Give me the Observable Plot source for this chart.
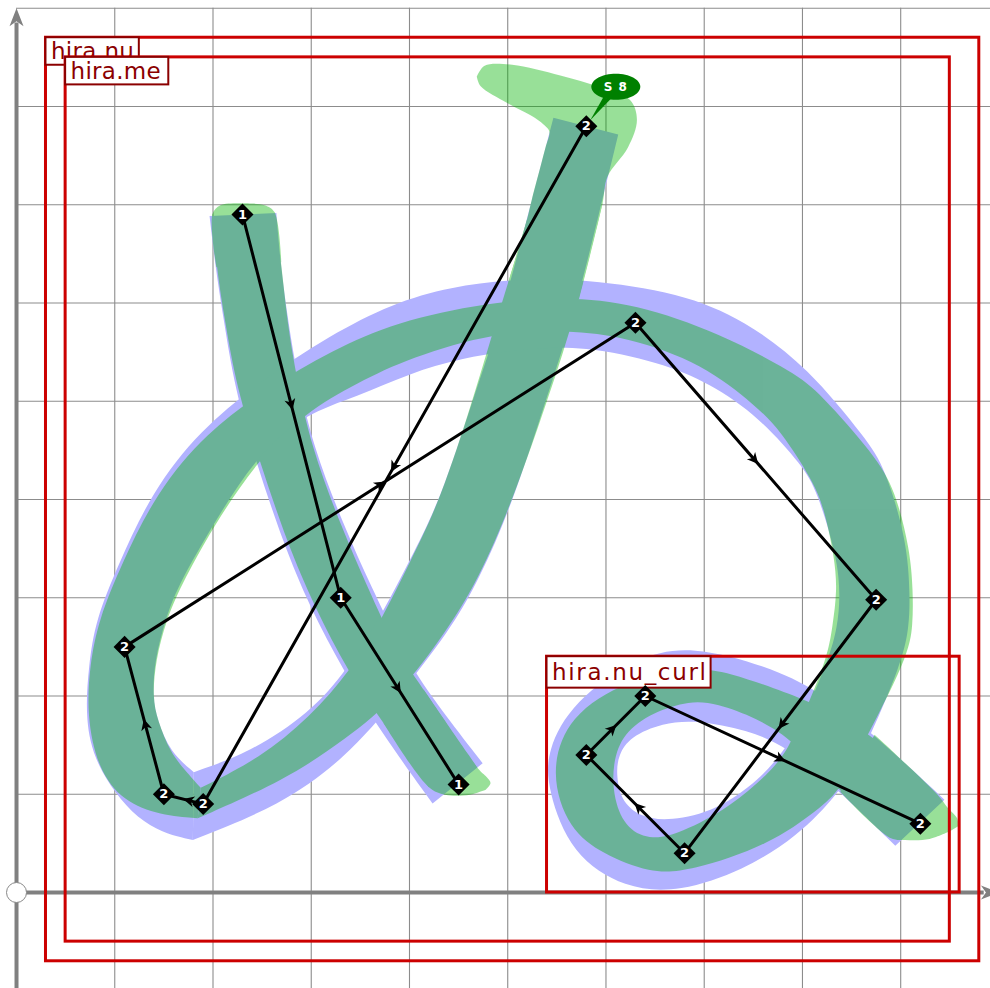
<!DOCTYPE html>
<html><head><meta charset="utf-8">
<script src="https://cdn.jsdelivr.net/npm/d3@7"></script>
<script src="https://cdn.jsdelivr.net/npm/@observablehq/plot@0.6"></script>
<style>html,body{margin:0;padding:0;background:#fff}svg{display:block}</style>
</head><body><div id="chart"></div>
<script>
// Ribbon edges, in font units: [inner x, inner y, outer x, outer y]
const blueStem = [[197,688,265,691],[203,636,269,641],[211,585,277,580],[223,511,287,521],[243,442,302,455],[272,355,333,374],[299,290,362,310],[333,226,393,246],[370,165,419,203],[424,90,475,131]];
const blueDown = [[547,788,613,771],[525,704,593,689],[503,620,572,603],[488,569,556,552],[465,501,533,480],[432,399,499,379],[401,338,468,312],[374,285,442,267],[337,226,388,197],[299,182,335,136],[238,142,269,88],[181,122,180,53]];
const blueLoop = [[181,122,180,53],[157,142,130,64],[144,175,82,124],[139,198,70,175],[141,236,74,231],[152,277,81,277],[164,310,104,333],[197,368,138,407],[243,442,187,470],[294,487,250,521],[347,504,320,567],[401,528,383,599],[452,543,442,616],[513,553,508,624],[579,556,579,624],[655,539,676,610],[706,518,742,582],[757,483,806,534],[801,433,866,460],[815,409,884,433],[836,341,907,358],[839,300,910,300],[836,270,909,272],[828,239,903,236],[803,180,862,141],[785,148,839,102],[757,114,795,56],[713,83,740,22],[666,72,676,0],[635,76,620,3],[615,94,565,38],[611,121,541,104],[613,139,540,144],[625,158,567,194],[658,172,632,240],[693,175,688,251],[744,165,764,230],[785,148,816,206],[839,102,874,160],[895,47,945,94]];
const greenStem = [[200,690,263,692],[204,636,270,641],[212,585,276,580],[225,511,286,521],[247,442,300,455],[276,355,330,374],[304,290,358,310],[338,224,387,246],[374,172,415,206],[420,107,470,126]];
const greenStemTop = [[229,701,229,701],[208,699,253,699],[200,690,263,692],[204,636,270,641]];
const greenStemEnd = [[374,172,415,206],[420,107,470,126],[437,99,479,117],[462,99,483,111],[478,104,478,104]];
const greenHook = [[469,830,469,830],[473,820,477,841],[500,803,505,842],[528,788,554,831],[542,776,594,819],[543,772,625,806],[539,758,632,786],[533,735,623,758],[526,709,602,728],[520,684,597,701],[501,620,573,603]];
const greenDown = [[520,684,597,701],[501,620,573,603],[485,569,558,552],[465,501,534,480],[432,399,498,379],[402,338,467,312],[372,277,439,267],[341,226,390,200],[299,178,335,155],[248,136,274,114],[188,106,185,75]];
const greenLoop = [[188,106,185,75],[172,124,147,78],[157,142,109,92],[144,175,83,126],[139,198,72,180],[142,236,75,231],[153,277,84,277],[167,310,108,335],[200,371,143,407],[245,438,194,468],[294,488,253,511],[347,518,323,552],[401,544,386,580],[488,570,479,600],[561,572,559,606],[622,565,630,599],[699,538,716,569],[754,494,793,528],[778,470,818,508],[811,419,874,445],[823,389,895,409],[833,341,910,348],[836,307,913,307],[831,270,913,272],[826,239,908,239],[803,183,859,145],[791,158,839,104],[778,131,818,85],[727,86,767,48],[676,60,686,21],[648,53,645,19],[622,63,597,39],[608,94,563,63],[607,131,543,121],[618,162,562,180],[648,183,623,216],[686,195,686,230],[713,192,728,223],[754,177,772,207],[791,155,811,193],[839,102,874,160],[890,55,938,99]];
const greenTailEnd = [[839,102,874,160],[890,55,938,99],[905,53,949,85],[930,54,958,75],[951,62,959,67]];

// Stroke control points
const stroke1X = [230,330,450];
const stroke1Y = [690,300,110];
const stroke2X = [580,190,150,110,630,875,680,580,640,920];
const stroke2Y = [780,90,100,250,580,298,40,140,200,70];

// Boxes
const boxNames = ["hira.nu","hira.me","hira.nu_curl"];
const boxX1 = [30,50,540];
const boxX2 = [980,950,960];
const boxY1 = [-70,-50,0];
const boxY2 = [870,850,240];
const labelWidth = [95,105,167];
const labelHeight = [28,28,32];

const gridX = [100,200,300,400,500,600,700,800,900];
const gridY = [100,200,300,400,500,600,700,800,900];
const tag = "S 8";
const tagAt = [610,820];
const tagTail = [[597,809],[605,808],[584,786]];

const rib = (rows, piece) => rows.map(([lx,ly,rx,ry]) => ({lx,ly,rx,ry,piece}));
const blueRows = [...rib(blueStem,"a"),...rib(blueDown,"b"),...rib(blueLoop,"c")];
const greenRows = [...rib(greenStem,"a"),...rib(greenDown,"b"),...rib(greenLoop,"c")];
const greenCaps = [...rib(greenStemTop,"t"),...rib(greenStemEnd,"e"),...rib(greenHook,"h"),...rib(greenTailEnd,"l")];
const ribbon = {x1:"lx",y1:"ly",x2:"rx",y2:"ry",z:"piece"};

const toPts = (X,Y,s) => X.map((x,i) => ({x,y:Y[i],s}));
const pts1 = toPts(stroke1X,stroke1Y,1), pts2 = toPts(stroke2X,stroke2Y,2);
const allPts = [...pts1,...pts2];
const mids = [pts1,pts2].flatMap(p => d3.pairs(p).map(([a,b]) => ({
  x:a.x+(b.x-a.x)*0.51, y:a.y+(b.y-a.y)*0.51, rot:Math.atan2(b.x-a.x,b.y-a.y)*180/Math.PI })));

const headSmall = {draw(c){c.moveTo(0,0);c.lineTo(5.5,11);c.lineTo(0,8);c.lineTo(-5.5,11);c.closePath();}};
const headAxis = {draw(c){c.moveTo(0,0);c.lineTo(7,18);c.lineTo(0,13);c.lineTo(-7,18);c.closePath();}};
const oval = {draw(c){const a=24.5,b=13,k=0.5523;c.moveTo(-a,0);
  c.bezierCurveTo(-a,-k*b,-k*a,-b,0,-b);c.bezierCurveTo(k*a,-b,a,-k*b,a,0);
  c.bezierCurveTo(a,k*b,k*a,b,0,b);c.bezierCurveTo(-k*a,b,-a,k*b,-a,0);c.closePath();}};

const red="#cc0000", dark="#8b0000", axisGray="#808080", gridGray="#8c8c8c";
const font="DejaVu Sans";
const idx = i => [boxNames[i]];
const boxMarks = i => [
  Plot.rect(idx(i),{x1:()=>boxX1[i],x2:()=>boxX2[i],y1:()=>boxY1[i],y2:()=>boxY2[i],fill:"none",stroke:red,strokeWidth:3}),
  Plot.rect(idx(i),{x1:()=>boxX1[i],x2:()=>boxX1[i]+labelWidth[i],y1:()=>boxY2[i],y2:()=>boxY2[i]-labelHeight[i],fill:"white",stroke:dark,strokeWidth:2}),
  Plot.text(idx(i),{x:()=>boxX1[i]+5,y:()=>boxY2[i]-labelHeight[i]/2,text:d=>d,textAnchor:"start",fontSize:23,fontFamily:font,fill:dark})
];

const chart = Plot.plot({
  width:990,height:988,margin:0,
  style:{background:"#fff"},
  x:{axis:null,domain:[-16.3,991.4],range:[0,990]},
  y:{axis:null,domain:[-97.7,907.9],range:[988,0]},
  marks:[
    Plot.ruleX(gridX,{y1:-100,y2:900,stroke:gridGray,strokeWidth:1.1}),
    Plot.ruleY(gridY,{x1:0,x2:1010,stroke:gridGray,strokeWidth:1.1}),
    Plot.ruleX([0],{y1:-100,y2:885,stroke:axisGray,strokeWidth:4}),
    Plot.ruleY([0],{x1:0,x2:985,stroke:axisGray,strokeWidth:4}),
    Plot.dot([0],{x:()=>0,y:()=>900,symbol:headAxis,r:1,fill:axisGray,stroke:"none"}),
    Plot.dot([0],{x:()=>1000,y:()=>0,symbol:headAxis,rotate:90,r:1,fill:axisGray,stroke:"none"}),
    Plot.dot([0],{x:()=>0,y:()=>0,r:10,fill:"white",stroke:"#888",strokeWidth:1}),
    Plot.area(blueRows,{...ribbon,curve:"basis",fill:"#b2b2ff"}),
    Plot.area(greenRows,{...ribbon,curve:"basis",fill:"#00b400"}),
    Plot.area(greenCaps,{...ribbon,curve:"catmull-rom",fill:"#00b400"}),
    ...boxMarks(0),...boxMarks(1),...boxMarks(2),
    Plot.line(tagTail,{x:d=>d[0],y:d=>d[1],curve:"linear-closed",fill:"#008000",stroke:"none"}),
    Plot.dot([tag],{x:()=>tagAt[0],y:()=>tagAt[1],symbol:oval,r:1,fill:"#008000",stroke:"none"}),
    Plot.text([tag],{x:()=>tagAt[0],y:()=>tagAt[1],text:d=>d,fontSize:12,fontWeight:"bold",fontFamily:font,fill:"white"}),
    Plot.line(pts1,{x:"x",y:"y",stroke:"black",strokeWidth:3,curve:"linear"}),
    Plot.line(pts2,{x:"x",y:"y",stroke:"black",strokeWidth:3,curve:"linear"}),
    Plot.dot(mids,{x:"x",y:"y",rotate:"rot",symbol:headSmall,r:1,fill:"black",stroke:"none"}),
    Plot.dot(allPts,{x:"x",y:"y",symbol:"square",rotate:45,r:8.8,fill:"black",stroke:"none"}),
    Plot.text(allPts,{x:"x",y:"y",text:d=>String(d.s),fontSize:13,fontWeight:"bold",fontFamily:font,fill:"white"})
  ]
});
// The green glyph's pieces share one translucent group, so their overlaps are not darker.
const areas = [...chart.querySelectorAll('g[aria-label="area"]')];
const greens = areas.slice(1);
if (greens.length) {
  const wrap = document.createElementNS("http://www.w3.org/2000/svg","g");
  wrap.setAttribute("opacity","0.4");
  greens[0].parentNode.insertBefore(wrap,greens[0]);
  greens.forEach(g=>wrap.appendChild(g));
}
// Label spacing
chart.querySelectorAll("text").forEach(t=>{
  if (t.textContent==="hira.nu_curl") t.setAttribute("textLength","154");
  if (t.textContent==="hira.nu") t.setAttribute("textLength","83");
  if (t.textContent==="hira.me") t.setAttribute("textLength","90");
  if (t.textContent===tag) t.style.letterSpacing="1px";
});
document.getElementById("chart").appendChild(chart);
</script></body></html>
